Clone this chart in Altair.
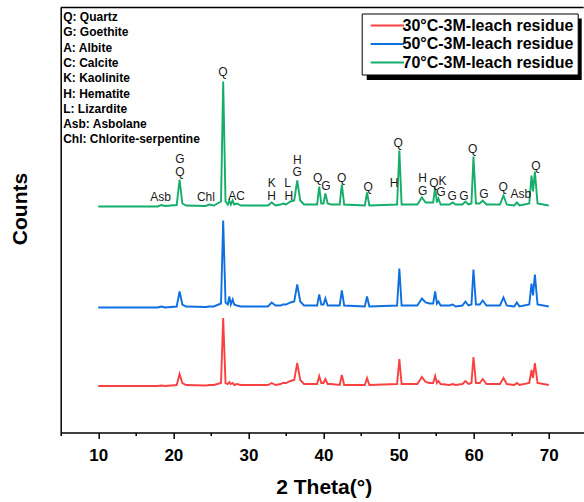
import altair as alt
import pandas as pd

# 2-theta positions (degrees) shared by the three patterns
theta = [10.0, 17.9, 18.4, 18.9, 20.45, 20.83, 21.2, 21.7, 24.3, 24.8, 25.4, 26.35, 26.64, 26.95,
         27.25, 27.45, 27.65, 27.9, 28.1, 28.45, 29.0, 32.6, 33.1, 33.6, 34.3, 34.6, 35.0, 35.6,
         36.1, 36.5, 36.9, 37.4, 39.15, 39.43, 39.7, 40.0, 40.25, 40.55, 41.0, 42.15, 42.44, 42.75,
         45.5, 45.8, 46.1, 49.8, 50.1, 50.4, 52.5, 53.1, 53.6, 54.1, 54.6, 54.87, 55.1, 55.3,
         55.6, 56.8, 57.2, 57.6, 58.5, 58.9, 59.3, 59.7, 59.97, 60.3, 60.8, 61.2, 61.7, 63.5,
         63.97, 64.4, 65.4, 65.75, 66.1, 67.4, 67.7, 67.9, 68.15, 68.5, 70.0]

# relative intensities above each pattern's own baseline
int_70 = [0, 0, 1.5, 0.5, 1.5, 27, 3, 1, 0.5, 2, 1, 5, 125, 5,
          2, 6, 2, 6, 2, 3, 1, 1, 4, 1, 2, 3, 2, 5,
          6, 26, 6, 2, 2, 20, 3, 3, 13, 3, 2, 2, 22, 2,
          1, 14, 1, 2, 56, 2, 2, 9, 4, 4, 4, 19, 4, 8,
          2, 2, 4, 2, 2, 5, 2, 3, 50, 3, 3, 6, 2, 2,
          11, 2, 1, 4, 1, 3, 31, 15, 35, 3, 1]
int_50 = [0, 0, 1, 0, 1, 16, 3, 1, 0.5, 1, 1, 4, 87, 5,
          3, 11, 3, 8, 3, 2, 1, 1, 5, 2, 2, 3, 3, 5,
          6, 23, 6, 2, 2, 13, 3, 3, 9, 2, 2, 2, 17, 2,
          1, 11, 1, 2, 39, 2, 2, 9, 5, 4, 4, 16, 4, 6,
          2, 2, 3, 1, 2, 6, 2, 3, 38, 3, 3, 7, 2, 2,
          10, 2, 1, 5, 1, 3, 24, 12, 33, 3, 1]
int_30 = [0, 0, 0.5, 0, 1, 12, 3, 1, 0.5, 1, 1, 3, 68, 3,
          2, 4, 2, 3, 1, 2, 1, 1, 3, 1, 2, 3, 3, 5,
          6, 23, 6, 2, 2, 10, 3, 3, 7, 2, 2, 1, 11, 1,
          1, 8, 1, 2, 27, 2, 2, 9, 4, 3, 3, 10, 3, 5,
          2, 1, 2, 1, 2, 5, 2, 3, 29, 3, 3, 7, 2, 2,
          8, 2, 1, 3, 1, 3, 16, 8, 23, 3, 1]

series = ["30°C-3M-leach residue", "50°C-3M-leach residue", "70°C-3M-leach residue"]
offsets = [46.5, 125, 226]          # vertical stacking offsets (counts)
colors = ["#F94141", "#0D6FE0", "#14AD6A"]

# peak labels on the 70 °C pattern
lab_text = ["Q", "G", "Q", "Asb", "Chl", "AC", "K", "H", "L", "H", "H", "G", "Q", "G", "Q", "Q",
            "H", "Q", "H", "G", "Q", "K", "G", "G", "G", "Q", "G", "Q", "Asb", "Q"]
lab_theta = [26.60, 20.88, 20.88, 18.31, 24.34, 28.43, 33.09, 33.09, 35.22, 35.39, 36.50, 36.50,
             39.21, 40.32, 42.41, 45.95, 49.41, 49.95, 53.19, 53.19, 54.70, 55.86, 55.63, 57.14,
             58.70, 59.85, 61.36, 63.93, 66.28, 68.28]
lab_counts = [360.5, 274, 260.8, 235.8, 235.5, 236.8, 249.8, 236.8, 249.5, 236.5, 272.8, 260.2,
              254.8, 246.8, 254.2, 245.2, 249.2, 289.2, 254.2, 241.8, 249.8, 251.5, 240.2, 236.8,
              236.8, 283.2, 238.5, 245.8, 238.5, 266.8]

phases = ["Q: Quartz", "G: Goethite", "A: Albite", "C: Calcite", "K: Kaolinite", "H: Hematite",
          "L: Lizardite", "Asb: Asbolane", "Chl: Chlorite-serpentine"]

x_ticks = [5, 10, 15, 20, 25, 30, 35, 40, 45, 50, 55, 60, 65, 70]

rows = []
for name, off, vals in zip(series, offsets, [int_30, int_50, int_70]):
    for t, v in zip(theta, vals):
        rows.append({"theta": t, "counts": v + off, "series": name})
df = pd.DataFrame(rows)
labels = pd.DataFrame({"theta": lab_theta, "counts": lab_counts, "label": lab_text})

FONT = "Liberation Sans"
W, H = 523, 425

xscale = alt.Scale(domain=[5, 74.65], nice=False)
yscale = alt.Scale(domain=[0, 425], nice=False, zero=False)

xaxis = alt.Axis(
    title="2 Theta(°)", values=x_ticks, grid=False,
    labelExpr="datum.value % 10 === 0 ? datum.label : ''",
    tickSize={"condition": {"test": "datum.value % 10 === 0", "value": 6}, "value": 3},
    tickColor="black", tickWidth=1.5, domainColor="black", domainWidth=1.5,
    labelFont=FONT, labelFontSize=17, labelFontWeight="bold", labelColor="black",
    labelPadding=8.5, titleFont=FONT, titleFontSize=21, titleFontWeight="bold",
    titleColor="black", titleBaseline="alphabetic", titleY=61, titleX=263)
yaxis = alt.Axis(
    title="Counts", ticks=False, labels=False, grid=False, domainColor="black",
    domainWidth=1.5, titleFont=FONT, titleFontSize=21, titleFontWeight="bold",
    titleColor="black", titleBaseline="alphabetic", titleX=-34.7, titleY=201,
    titleAngle=-90, titleAlign="center")

lines = alt.Chart(df).mark_line(strokeWidth=1.9, clip=True).encode(
    x=alt.X("theta:Q", scale=xscale, axis=xaxis),
    y=alt.Y("counts:Q", scale=yscale, axis=yaxis),
    color=alt.Color("series:N", scale=alt.Scale(domain=series, range=colors), legend=alt.Legend(
        title=None, orient="none", legendX=301, legendY=6, symbolType="M-1,0H10.1",
        symbolSize=36, symbolStrokeWidth=2, labelFont=FONT, labelFontSize=16,
        labelFontWeight="bold", labelColor="black", labelLimit=400, strokeColor="black",
        fillColor="white", padding=4, rowPadding=2.5, labelOffset=20.8)),
)

peak_labels = alt.Chart(labels).mark_text(
    font=FONT, fontSize=12, color="#1a1a1a", baseline="middle", align="center"
).encode(
    x=alt.X("theta:Q", scale=xscale, axis=xaxis),
    y=alt.Y("counts:Q", scale=yscale, axis=yaxis),
    text="label:N",
)

deco = pd.DataFrame({"k": [0]})
phase_block = alt.Chart(deco).mark_text(
    font=FONT, fontSize=12, fontWeight="bold", color="black", align="left",
    baseline="alphabetic", lineHeight=15.3, lineBreak="\n"
).encode(x=alt.value(2.5), y=alt.value(13.5), text=alt.value("\n".join(phases)))

top_border = alt.Chart(deco).mark_rule(color="black", strokeWidth=1.5).encode(
    x=alt.value(0), x2=alt.value(W), y=alt.value(0))

shadow = alt.Chart(deco).mark_rect(color="black").encode(
    x=alt.value(306), x2=alt.value(521), y=alt.value(11), y2=alt.value(72.5))

chart = alt.layer(shadow, lines, peak_labels, phase_block, top_border).properties(
    width=W, height=H,
    autosize=alt.AutoSizeParams(type="none"),
    padding={"left": 60.7, "top": 7.5, "right": 0.3, "bottom": 69.5},
).configure_view(stroke=None)

chart.save("out.html", embed_options={"renderer": "svg", "actions": False})
